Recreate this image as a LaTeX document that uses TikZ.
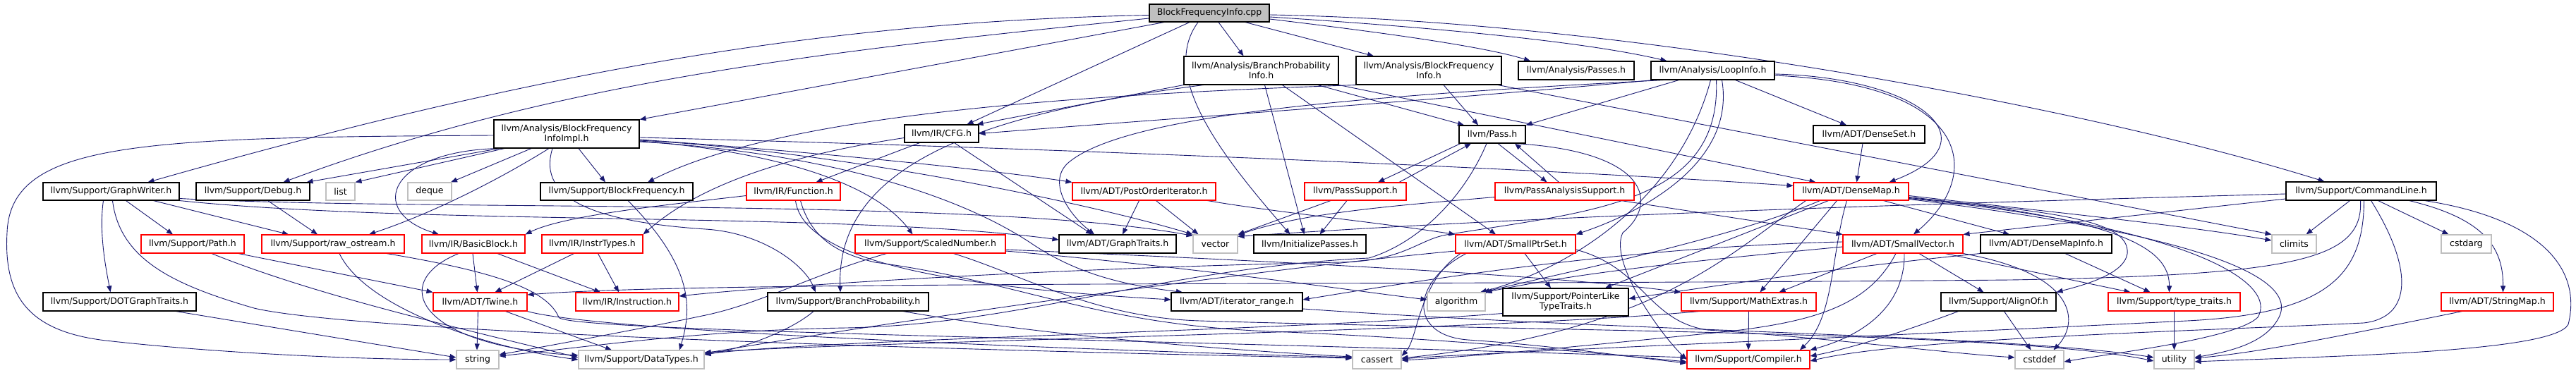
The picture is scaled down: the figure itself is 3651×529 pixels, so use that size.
\documentclass[tikz,border=0pt]{standalone}
\usepackage{fontspec}
\setmainfont{DejaVu Sans}
\usetikzlibrary{arrows.meta,backgrounds}
\definecolor{edgeblue}{HTML}{191970}
\definecolor{boxgray}{HTML}{BFBFBF}
\tikzset{
  nodebox/.style={draw, rectangle, inner sep=0pt, line width=1.1pt, fill=white, align=center, font=\fontsize{12.5}{14}\selectfont, minimum height=26pt},
  bk/.style={nodebox, draw=black},
  rd/.style={nodebox, draw=red},
  gy/.style={nodebox, draw=boxgray},
  conn/.style={draw=edgeblue, line width=0.9pt, -{Triangle[length=9pt,width=7pt]}},
}
\begin{document}
\begin{tikzpicture}[x=1pt,y=-1pt]
\useasboundingbox (0,0) rectangle (3651,529);
% row 0/1
\node[bk, fill=boxgray, minimum width=170pt, minimum height=25pt] (cpp) at (1714,18.5) {BlockFrequencyInfo.cpp};
\node[bk, minimum width=219pt, minimum height=40pt] (bpi) at (1787.5,100) {llvm/Analysis/BranchProbability\\Info.h};
\node[bk, minimum width=206pt, minimum height=40pt] (bfih) at (2025,100) {llvm/Analysis/BlockFrequency\\Info.h};
\node[bk, minimum width=164pt] (passes) at (2234,100) {llvm/Analysis/Passes.h};
\node[bk, minimum width=175pt] (li) at (2427.5,100) {llvm/Analysis/LoopInfo.h};
\node[bk, minimum width=206pt, minimum height=40pt] (impl) at (803,190) {llvm/Analysis/BlockFrequency\\InfoImpl.h};
\node[bk, minimum width=105pt, minimum height=25pt] (cfg) at (1334.5,189.5) {llvm/IR/CFG.h};
\node[bk, minimum width=94pt, minimum height=25pt] (pass) at (2115,190.5) {llvm/Pass.h};
\node[bk, minimum width=158pt, minimum height=25pt] (dset) at (2649,190.5) {llvm/ADT/DenseSet.h};
% row 2
\node[bk, minimum width=193pt, minimum height=25pt] (gw) at (157.5,271.5) {llvm/Support/GraphWriter.h};
\node[bk, minimum width=161pt, minimum height=25pt] (debug) at (358.5,271.5) {llvm/Support/Debug.h};
\node[gy, minimum width=41pt, minimum height=25pt] (list) at (482.5,271.5) {list};
\node[gy, minimum width=62pt, minimum height=25pt] (deque) at (609,271.5) {deque};
\node[bk, minimum width=216pt, minimum height=25pt] (bfreq) at (874,271.5) {llvm/Support/BlockFrequency.h};
\node[rd, minimum width=133pt, minimum height=25pt] (func) at (1124.5,271.5) {llvm/IR/Function.h};
\node[rd, minimum width=203pt, minimum height=25pt] (poi) at (1621.5,271.5) {llvm/ADT/PostOrderIterator.h};
\node[rd, minimum width=144pt, minimum height=25pt] (psup) at (1921,271.5) {llvm/PassSupport.h};
\node[rd, minimum width=197pt, minimum height=25pt] (pas) at (2217.5,271.5) {llvm/PassAnalysisSupport.h};
\node[rd, minimum width=163pt, minimum height=25pt] (dmap) at (2623.5,271.5) {llvm/ADT/DenseMap.h};
\node[bk, minimum width=213pt] (cmd) at (3346.5,271) {llvm/Support/CommandLine.h};
% row 3
\node[rd, minimum width=146pt] (path) at (273,346) {llvm/Support/Path.h};
\node[rd, minimum width=202pt] (raw) at (472,346) {llvm/Support/raw\_ostream.h};
\node[rd, minimum width=146pt] (bb) at (671,346) {llvm/IR/BasicBlock.h};
\node[rd, minimum width=143pt] (instr) at (839.5,346) {llvm/IR/InstrTypes.h};
\node[rd, minimum width=213pt] (scaled) at (1318.5,346) {llvm/Support/ScaledNumber.h};
\node[bk, minimum width=166pt] (gtraits) at (1584,346) {llvm/ADT/GraphTraits.h};
\node[gy, minimum width=63pt] (vector) at (1722.5,346) {vector};
\node[bk, minimum width=159pt] (initp) at (1856.5,346) {llvm/InitializePasses.h};
\node[rd, minimum width=170pt] (sps) at (2148,346) {llvm/ADT/SmallPtrSet.h};
\node[rd, minimum width=170pt] (svec) at (2697,346) {llvm/ADT/SmallVector.h};
\node[bk, minimum width=186pt] (dmi) at (2900,346) {llvm/ADT/DenseMapInfo.h};
\node[gy, minimum width=63pt] (climits) at (3251.5,346) {climits};
\node[gy, minimum width=71pt] (cstdarg) at (3495.5,346) {cstdarg};
% row 4
\node[bk, minimum width=217pt] (dot) at (169.5,428) {llvm/Support/DOTGraphTraits.h};
\node[rd, minimum width=133pt] (twine) at (680.5,428) {llvm/ADT/Twine.h};
\node[rd, minimum width=146pt] (instn) at (889,428) {llvm/IR/Instruction.h};
\node[bk, minimum width=228pt] (bprob) at (1202,428) {llvm/Support/BranchProbability.h};
\node[bk, minimum width=186pt] (itr) at (1753,428) {llvm/ADT/iterator\_range.h};
\node[gy, minimum width=82pt] (algo) at (2064,428) {algorithm};
\node[bk, minimum width=178pt, minimum height=39pt] (pltt) at (2219,428.5) {llvm/Support/PointerLike\\TypeTraits.h};
\node[rd, minimum width=191pt] (math) at (2478.5,428) {llvm/Support/MathExtras.h};
\node[bk, minimum width=163pt] (align) at (2832.5,428) {llvm/Support/AlignOf.h};
\node[rd, minimum width=187pt] (tt) at (3081.5,428) {llvm/Support/type\_traits.h};
\node[rd, minimum width=159pt] (smap) at (3539.5,428) {llvm/ADT/StringMap.h};
% row 5
\node[gy, minimum width=60pt] (string) at (677,510) {string};
\node[gy, minimum width=178pt] (dtypes) at (909,510) {llvm/Support/DataTypes.h};
\node[gy, minimum width=69pt] (cassert) at (1951.5,510) {cassert};
\node[rd, minimum width=174pt] (compiler) at (2478,510) {llvm/Support/Compiler.h};
\node[gy, minimum width=69pt] (cstddef) at (2890.5,510) {cstddef};
\node[gy, minimum width=57pt] (utility) at (3081.5,510) {utility};

\begin{scope}[on background layer]
% BlockFrequencyInfo.cpp
\draw[conn] ([yshift=-3pt]cpp.west) .. controls (1200,30) and (800,90) .. ([xshift=52pt]gw.north);
\draw[conn] ([yshift=-7.5pt]cpp.west) .. controls (1200,70) and (800,110) .. ([xshift=43pt]debug.north);
\draw[conn] ([xshift=-64pt]cpp.south) -- (impl.north east);
\draw[conn] ([xshift=-28pt]cpp.south) -- ([xshift=36pt]cfg.north);
\draw[conn] ([xshift=-16pt]cpp.south) .. controls (1640,110) and (1740,230) .. ([xshift=-28pt]initp.north);
\draw[conn] ([xshift=13pt]cpp.south) -- ([xshift=-25pt]bpi.north);
\draw[conn] ([xshift=51pt]cpp.south) -- ([xshift=-78pt]bfih.north);
\draw[conn] ([yshift=-8.5pt]cpp.east) .. controls (1950,45) and (2100,65) .. ([xshift=-65pt]passes.north);
\draw[conn] ([yshift=-5.5pt]cpp.east) .. controls (2050,40) and (2250,60) .. ([xshift=-65pt]li.north);
\draw[conn] ([yshift=-2.5pt]cpp.east) .. controls (2300,30) and (2950,150) .. ([xshift=-52pt]cmd.north);
% BlockFrequencyInfoImpl.h
\draw[conn] ([yshift=-2pt]impl.west) .. controls (200,195) and (15,200) .. (10,330) .. controls (5,420) and (40,470) .. (150,483) .. controls (300,500) and (500,510) .. (string.west);
\draw[conn] ([xshift=-95pt]impl.south) -- ([xshift=76pt]debug.north);
\draw[conn] ([xshift=-88pt]impl.south) -- (list.north east);
\draw[conn] ([xshift=-50pt]impl.south) -- ([xshift=30pt]deque.north);
\draw[conn] ([xshift=17pt]impl.south) -- ([xshift=-16pt]bfreq.north);
\draw[conn] ([xshift=-98pt]impl.south) .. controls (550,215) and (520,300) .. ([xshift=-49pt]bb.north);
\draw[conn] ([xshift=-25pt]impl.south) .. controls (715,250) and (620,300) .. ([xshift=51pt]raw.north);
\draw[conn] ([xshift=-20pt]impl.south) .. controls (760,285) and (850,315) .. (1000,325) .. controls (1080,330) and (1140,375) .. ([xshift=-46pt]bprob.north);
\draw[conn] ([yshift=-5pt]impl.east) .. controls (1500,210) and (2200,240) .. ([yshift=8pt]dmap.west);
\draw[conn] ([yshift=-8pt]impl.east) .. controls (1150,215) and (1400,240) .. (poi.north west);
\draw[conn] ([yshift=-9pt]impl.east) .. controls (1200,215) and (1550,290) .. (vector.north west);
\draw[conn] ([yshift=-10pt]impl.east) .. controls (1100,215) and (1240,260) .. ([xshift=-25pt]scaled.north);
\draw[conn] ([yshift=-11pt]impl.east) .. controls (1150,215) and (1350,270) .. (1463,346) .. controls (1530,391) and (1600,405) .. ([xshift=-77pt]itr.north);
% BranchProbabilityInfo.h
\draw[conn] (bpi.south west) -- ([xshift=50pt]cfg.north);
\draw[conn] ([xshift=-82pt]bpi.south) .. controls (1400,160) and (1185,230) .. ([xshift=-11pt]bprob.north);
\draw[conn] ([xshift=5pt]bpi.south) -- ([xshift=-8pt]initp.north);
\draw[conn] ([xshift=30pt]bpi.south) -- ([xshift=-28pt]sps.north);
\draw[conn] ([xshift=80pt]bpi.south) -- ([xshift=-40pt]pass.north);
\draw[conn] (bpi.south east) -- ([xshift=-50pt]dmap.north);
% BlockFrequencyInfo.h
\draw[conn] ([xshift=21pt]bfih.south) -- ([xshift=-20pt]pass.north);
\draw[conn] (bfih.south west) .. controls (1500,135) and (1100,165) .. ([xshift=44pt]bfreq.north);
\draw[conn] ([xshift=98pt]bfih.south) -- (climits.north west);
% LoopInfo.h
\draw[conn] ([xshift=-84pt]li.south) .. controls (2000,145) and (1700,165) .. (cfg.east);
\draw[conn] ([xshift=-70pt]li.south) .. controls (1950,135) and (1600,160) .. (1515,230) .. controls (1485,255) and (1510,300) .. ([xshift=-33pt]gtraits.north);
\draw[conn] ([xshift=-48pt]li.south) -- (pass.north east);
\draw[conn] ([xshift=32pt]li.south) -- ([xshift=-32pt]dset.north);
\draw[conn] ([yshift=-5pt]li.east) .. controls (2720,110) and (2830,200) .. ([xshift=54pt]dmap.north);
\draw[conn] ([yshift=-7pt]li.east) .. controls (2800,120) and (2810,250) .. ([xshift=15pt]svec.north);
\draw[conn] ([xshift=13pt]li.south) .. controls (2460,230) and (2330,300) .. (sps.north east);
\draw[conn] ([xshift=-3pt]li.south) .. controls (2380,280) and (2230,380) .. ([xshift=34pt]algo.north);
\draw[conn] ([xshift=5pt]li.south) .. controls (2440,290) and (2250,300) .. (2050,333) .. controls (2010,340) and (1990,370) .. (1900,372) .. controls (1500,380) and (1100,405) .. ([yshift=8pt]instn.east);
% CommandLine.h
\draw[conn] ([xshift=-16pt]cmd.south) -- ([xshift=17pt]climits.north);
\draw[conn] ([xshift=24pt]cmd.south) -- ([xshift=-25pt]cstdarg.north);
\draw[conn] ([xshift=68pt]cmd.south) .. controls (3520,310) and (3548,350) .. ([xshift=8pt]smap.north);
\draw[conn] ([xshift=90pt]cmd.south) .. controls (3600,310) and (3660,380) .. (3640,460) .. controls (3620,500) and (3300,505) .. ([yshift=-3pt]utility.east);
\draw[conn] ([yshift=-4pt]cmd.west) .. controls (2700,290) and (2200,305) .. ([yshift=-3pt]vector.north east);
\draw[conn] ([yshift=-11pt]cmd.west) -- (svec.north east);
\draw[conn] ([xshift=-1pt]cmd.south) .. controls (3350,370) and (3250,390) .. (2850,397) .. controls (2000,405) and (1000,398) .. ([yshift=10pt]twine.east);
\draw[conn] ([xshift=14pt]cmd.south) .. controls (3420,380) and (3420,450) .. (3350,458) .. controls (3100,470) and (2700,480) .. ([yshift=-2pt]compiler.east);
\draw[conn] ([xshift=4pt]cmd.south) .. controls (3350,390) and (3300,445) .. (3100,455) .. controls (2600,480) and (2100,500) .. ([yshift=1pt]cassert.east);
% GraphWriter.h
\draw[conn] ([xshift=-11pt]gw.south) .. controls (140,330) and (150,380) .. ([xshift=-13pt]dot.north);
\draw[conn] ([xshift=21pt]gw.south) -- ([xshift=-28pt]path.north);
\draw[conn] ([xshift=60pt]gw.south) -- ([xshift=-63pt]raw.north);
\draw[conn] ([xshift=2pt]gw.south) .. controls (170,370) and (250,405) .. (360,437) .. controls (520,475) and (1500,500) .. ([yshift=2pt]cassert.west);
\draw[conn] (gw.south east) .. controls (600,320) and (1200,300) .. ([yshift=6pt]gtraits.west);
\draw[conn] ([yshift=-10pt]gw.east) .. controls (600,300) and (1400,280) .. ([yshift=-2pt]vector.north west);
% misc left part
\draw[conn] ([xshift=80pt]dot.south) -- ([yshift=3pt]string.west);
\draw[conn] ([xshift=21pt]debug.south) -- ([xshift=-22pt]raw.north);
\draw[conn] ([xshift=65pt]path.south) -- (twine.north west);
\draw[conn] ([xshift=27pt]path.south) .. controls (450,420) and (650,465) .. ([yshift=3pt]dtypes.west);
\draw[conn] ([xshift=9pt]raw.south) .. controls (520,440) and (700,495) .. (dtypes.west);
\draw[conn] ([xshift=76pt]raw.south) .. controls (700,385) and (775,410) .. (792,450) .. controls (800,470) and (1600,480) .. ([yshift=3pt]compiler.west);
\draw[conn] ([xshift=-1pt]bb.south) -- ([xshift=-4pt]twine.north);
\draw[conn] ([xshift=34pt]bb.south) -- ([xshift=-38pt]instn.north);
\draw[conn] ([xshift=-21pt]bb.south) .. controls (550,400) and (590,490) .. ([yshift=6pt]dtypes.west);
\draw[conn] ([xshift=-26pt]instr.south) -- ([xshift=21pt]twine.north);
\draw[conn] ([xshift=8pt]instr.south) -- ([xshift=-12pt]instn.north);
\draw[conn] ([xshift=-3pt]twine.south) -- ([xshift=-1pt]string.north);
\draw[conn] ([xshift=36pt]twine.south) -- ([xshift=-42pt]dtypes.north);
\draw[conn] (twine.south east) .. controls (850,470) and (1500,495) .. ([yshift=3pt]cassert.west);
\draw[conn] ([xshift=16pt]bfreq.south) .. controls (985,380) and (980,440) .. ([xshift=54pt]dtypes.north);
% Function.h / CFG.h
\draw[conn] ([yshift=-6pt]func.west) .. controls (950,290) and (800,305) .. (bb.north east);
\draw[conn] ([xshift=3pt]func.south) .. controls (1140,380) and (1400,410) .. ([yshift=3pt]itr.west);
\draw[conn] ([xshift=10pt]func.south) .. controls (1150,340) and (1190,360) .. (1240,372) .. controls (1450,400) and (1550,460) .. (1800,470) .. controls (2050,480) and (2250,500) .. ([yshift=-3pt]compiler.west);
\draw[conn] ([xshift=-31pt]cfg.south) -- ([xshift=32pt]func.north);
\draw[conn] ([xshift=18pt]cfg.south) -- ([xshift=-36pt]gtraits.north);
\draw[conn] ([yshift=-6pt]cfg.west) .. controls (1050,230) and (960,290) .. (instr.north east);
% PostOrderIterator.h, PassSupport.h, Pass.h, PassAnalysisSupport.h
\draw[conn] ([xshift=-7pt]poi.south) -- ([xshift=7pt]gtraits.north);
\draw[conn] ([xshift=17pt]poi.south) -- ([xshift=-24pt]vector.north);
\draw[conn] ([xshift=90pt]poi.south) .. controls (1800,300) and (1950,315) .. (sps.north west);
\draw[conn] ([xshift=-35pt]psup.south) -- (vector.north east);
\draw[conn] ([xshift=-12pt]psup.south) -- ([xshift=14pt]initp.north);
\draw[conn] ([xshift=62pt]psup.north) -- ([xshift=-30pt]pass.south);
\draw[conn] ([xshift=-45pt]pass.south) -- ([xshift=32pt]psup.north);
\draw[conn] ([xshift=8pt]pass.south) -- ([xshift=-25pt]pas.north);
\draw[conn] ([xshift=-8pt]pas.north) -- ([xshift=32pt]pass.south);
\draw[conn] ([xshift=-8pt]pass.south) .. controls (2075,280) and (2010,345) .. (1940,366) .. controls (1650,380) and (1450,460) .. (1200,465) .. controls (1000,468) and (850,490) .. ([yshift=5pt]string.east);
\draw[conn] ([xshift=33pt]pass.south) .. controls (2340,215) and (2350,290) .. (2300,330) .. controls (2280,370) and (2350,470) .. (compiler.west);
\draw[conn] ([xshift=80pt]pas.south) -- (svec.north west);
\draw[conn] ([yshift=-8pt]pas.west) .. controls (2000,290) and (1850,300) .. ([yshift=-1pt]vector.north east);
\draw[conn] ([xshift=-9pt]dset.south) -- ([xshift=8pt]dmap.north);
% DenseMap.h
\draw[conn] ([xshift=46pt]dmap.south) -- ([xshift=-52pt]dmi.north);
\draw[conn] ([xshift=-20pt]dmap.south) -- ([xshift=16pt]math.north);
\draw[conn] ([xshift=-6pt]dmap.south) .. controls (2595,360) and (2600,450) .. ([xshift=73pt]compiler.north);
\draw[conn] ([xshift=-32pt]dmap.south) -- ([xshift=56pt]pltt.north);
\draw[conn] ([xshift=-44pt]dmap.south) .. controls (2450,340) and (2200,390) .. ([xshift=38pt]algo.north);
\draw[conn] ([xshift=-64pt]dmap.south) .. controls (2450,360) and (2350,470) .. ([yshift=2pt]cassert.east);
\draw[conn] ([yshift=-6pt]dmap.east) .. controls (2900,300) and (3100,320) .. ([yshift=5pt]climits.west);
\draw[conn] ([yshift=-8pt]dmap.east) .. controls (3000,310) and (3075,350) .. ([xshift=-7pt]tt.north);
\draw[conn] ([yshift=-9pt]dmap.east) .. controls (2900,300) and (3020,310) .. (3015,360) .. controls (3010,390) and (2950,405) .. (align.north east);
\draw[conn] ([yshift=-10pt]dmap.east) .. controls (3100,320) and (3230,400) .. (3200,450) .. controls (3170,480) and (3000,500) .. ([yshift=-3pt]cstddef.east);
\draw[conn] ([yshift=-11pt]dmap.east) .. controls (3100,330) and (3260,390) .. (3230,450) .. controls (3210,490) and (3150,500) .. ([yshift=3pt]utility.east);
% SmallPtrSet.h
\draw[conn] ([xshift=13pt]sps.south) -- ([xshift=-21pt]pltt.north);
\draw[conn] ([yshift=-10pt]sps.west) .. controls (1800,380) and (1300,450) .. ([yshift=9pt]dtypes.east);
\draw[conn] ([xshift=-78pt]sps.south) .. controls (2010,400) and (2010,480) .. ([yshift=5pt]cassert.east);
\draw[conn] ([xshift=-70pt]sps.south) .. controls (2000,400) and (1995,475) .. (2080,482) .. controls (2200,490) and (2300,505) .. ([yshift=-5pt]compiler.west);
\draw[conn] ([yshift=-8pt]sps.east) .. controls (2330,380) and (2335,455) .. (2420,468) .. controls (2600,480) and (2750,500) .. ([yshift=3pt]cstddef.west);
% SmallVector.h
\draw[conn] ([xshift=23pt]svec.south) -- ([xshift=-21pt]align.north);
\draw[conn] ([xshift=-37pt]svec.south) -- ([xshift=43pt]math.north);
\draw[conn] ([xshift=2pt]svec.south) .. controls (2700,420) and (2660,470) .. (compiler.north east);
\draw[conn] ([xshift=-10pt]svec.south) .. controls (2650,430) and (2580,455) .. (2450,470) .. controls (2250,490) and (2100,505) .. ([yshift=-1pt]cassert.east);
\draw[conn] ([xshift=60pt]svec.south) -- ([xshift=-62pt]tt.north);
\draw[conn] (svec.south east) .. controls (2950,390) and (2945,460) .. ([xshift=20pt]cstddef.north);
\draw[conn] ([yshift=3pt]svec.west) .. controls (2300,350) and (2000,400) .. ([yshift=3pt]itr.east);
\draw[conn] ([yshift=-4pt]svec.west) .. controls (2400,370) and (2250,385) .. (algo.north east);
% DenseMapInfo.h and lower rows
\draw[conn] ([xshift=27pt]dmi.south) -- ([xshift=-34pt]tt.north);
\draw[conn] (dmi.south west) .. controls (2600,380) and (2400,410) .. ([yshift=5pt]pltt.east);
\draw[conn] (math.south) -- (compiler.north);
\draw[conn] ([xshift=-70pt]math.south) .. controls (2100,470) and (1200,485) .. ([yshift=10pt]dtypes.east);
\draw[conn] ([xshift=-57pt]align.south) .. controls (2700,470) and (2620,495) .. ([yshift=5pt]compiler.east);
\draw[conn] ([xshift=8pt]align.south) -- ([xshift=-12pt]cstddef.north);
\draw[conn] (tt.south) -- (utility.north);
\draw[conn] ([xshift=-50pt]smap.south) .. controls (3300,480) and (3200,500) .. ([yshift=2pt]utility.east);
\draw[conn] ([yshift=-10pt]itr.east) .. controls (2300,470) and (2850,475) .. ([yshift=3pt]utility.west);
\draw[conn] ([xshift=-62pt]scaled.south) .. controls (1150,390) and (1080,430) .. (1000,447) .. controls (900,468) and (780,490) .. ([yshift=7pt]string.east);
\draw[conn] ([yshift=-8pt]scaled.east) .. controls (1800,370) and (2200,390) .. (math.north west);
\draw[conn] ([yshift=-10pt]scaled.east) .. controls (1700,380) and (1900,410) .. ([yshift=3pt]algo.west);
\draw[conn] ([xshift=33pt]scaled.south) .. controls (1450,390) and (1550,450) .. (1700,455) .. controls (2200,470) and (2850,470) .. ([yshift=-2pt]utility.west);
\draw[conn] ([xshift=-49pt]bprob.south) .. controls (1120,470) and (1050,495) .. ([yshift=7pt]dtypes.east);
\draw[conn] ([xshift=78pt]bprob.south) .. controls (1500,480) and (1800,500) .. ([yshift=4pt]cassert.west);
\draw[conn] ([yshift=-16pt]pltt.west) .. controls (1800,470) and (1200,480) .. ([yshift=8pt]dtypes.east);
\end{scope}
\end{tikzpicture}
\end{document}
